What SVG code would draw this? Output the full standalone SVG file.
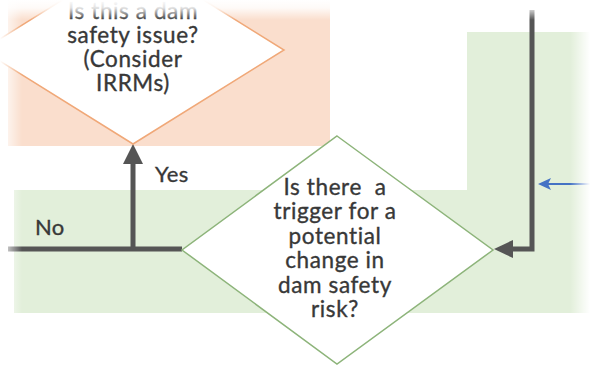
<svg xmlns="http://www.w3.org/2000/svg" width="590" height="365" viewBox="0 0 590 365">
  <defs>
    <style>
      .txt { font-family: Lato, "Open Sans", "Liberation Sans", sans-serif; font-size: 22.5px; letter-spacing: 0.6px; fill: #383838; text-anchor: middle; stroke: #383838; stroke-width: 0.35; }
      .lbl { font-family: Lato, "Open Sans", "Liberation Sans", sans-serif; font-size: 22px; letter-spacing: 0.4px; fill: #383838; stroke: #383838; stroke-width: 0.35; }
      .conn { stroke: #555555; stroke-width: 5; fill: none; }
    </style>
    <linearGradient id="fadeL" x1="0" y1="0" x2="1" y2="0">
      <stop offset="0" stop-color="#ffffff" stop-opacity="1"/>
      <stop offset="1" stop-color="#ffffff" stop-opacity="0"/>
    </linearGradient>
    <linearGradient id="fadeR" x1="1" y1="0" x2="0" y2="0">
      <stop offset="0" stop-color="#ffffff" stop-opacity="1"/>
      <stop offset="1" stop-color="#ffffff" stop-opacity="0"/>
    </linearGradient>
    <linearGradient id="fadeT" x1="0" y1="0" x2="0" y2="1">
      <stop offset="0" stop-color="#ffffff" stop-opacity="1"/>
      <stop offset="0.4" stop-color="#ffffff" stop-opacity="0.85"/>
      <stop offset="1" stop-color="#ffffff" stop-opacity="0"/>
    </linearGradient>
  </defs>

  <rect x="0" y="0" width="590" height="365" fill="#ffffff"/>

  <!-- background regions -->
  <g id="regions">
    <rect x="8" y="0" width="322" height="146" fill="#FADECD"/>
    <path d="M14,190 L467,190 L467,32 L590,32 L590,313 L14,313 Z" fill="#E2EFDA"/>
  </g>

  <!-- connectors -->
  <g id="connectors">
    <polyline class="conn" points="532,10 532,249 512,249"/>
    <path d="M494,249 L513,240 L513,258 Z" fill="#555555"/>
    <line class="conn" x1="8" y1="249" x2="182" y2="249"/>
    <line class="conn" x1="133" y1="249" x2="133" y2="162"/>
    <path d="M133,144 L123,164 L143,164 Z" fill="#555555"/>
    <line x1="590" y1="184" x2="548" y2="184" stroke="#4472C4" stroke-width="2"/>
    <path d="M538,184 L551,178 L548,184 L551,190 Z" fill="#4472C4"/>
    <text class="lbl" x="155" y="182">Yes</text>
    <text class="lbl" x="35" y="235">No</text>
  </g>

  <!-- orange decision -->
  <g id="node-dam-safety-issue">
    <polygon points="133,-44 284,50 133,144 -18,50" fill="#ffffff" stroke="#F0A878" stroke-width="1.5"/>
    <text class="txt" x="133" y="19">Is this a dam</text>
    <text class="txt" x="133" y="43">safety issue?</text>
    <text class="txt" x="133" y="67">(Consider</text>
    <text class="txt" x="133" y="91">IRRMs)</text>
  </g>

  <!-- green decision -->
  <g id="node-trigger">
    <polygon points="337,136 493,250 337,364 182,250" fill="#ffffff" stroke="#8DB47A" stroke-width="1.5"/>
    <text class="txt" x="335" y="195" xml:space="preserve">Is there  a</text>
    <text class="txt" x="335" y="219">trigger for a</text>
    <text class="txt" x="335" y="244">potential</text>
    <text class="txt" x="335" y="268">change in</text>
    <text class="txt" x="335" y="293">dam safety</text>
    <text class="txt" x="335" y="317">risk?</text>
  </g>

  <!-- soft screenshot edges -->
  <g id="edges">
    <rect x="0" y="0" width="22" height="365" fill="url(#fadeL)"/>
    <rect x="570" y="0" width="20" height="365" fill="url(#fadeR)"/>
    <rect x="0" y="0" width="590" height="20" fill="url(#fadeT)"/>
  </g>
</svg>
